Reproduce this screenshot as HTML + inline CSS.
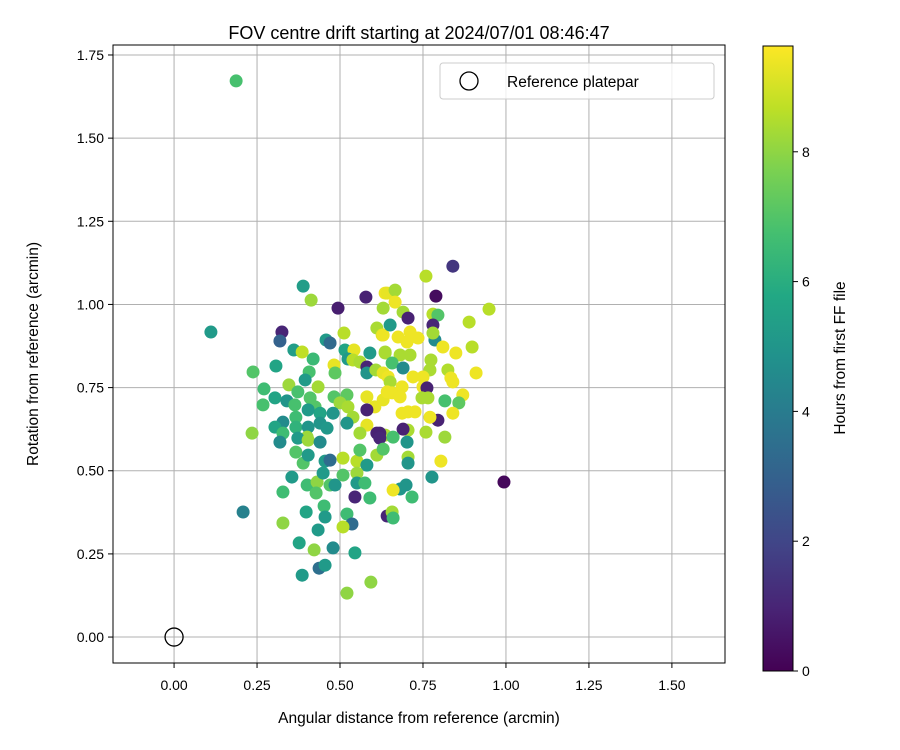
<!DOCTYPE html>
<html><head><meta charset="utf-8"><style>
body{margin:0;background:#fff;}
svg{display:block;font-family:"Liberation Sans","DejaVu Sans",sans-serif;}
</style></head><body>
<svg id="chart" width="900" height="750" viewBox="0 0 900 750">
<defs>
<linearGradient id="vir" x1="0" y1="1" x2="0" y2="0">
<stop offset="0" stop-color="#440154"/><stop offset="0.1" stop-color="#482475"/><stop offset="0.2" stop-color="#414487"/><stop offset="0.3" stop-color="#355f8d"/><stop offset="0.4" stop-color="#2a788e"/><stop offset="0.5" stop-color="#21918c"/><stop offset="0.6" stop-color="#22a884"/><stop offset="0.7" stop-color="#44bf70"/><stop offset="0.8" stop-color="#7ad151"/><stop offset="0.9" stop-color="#bddf26"/><stop offset="1" stop-color="#fde725"/>
</linearGradient>
<clipPath id="plotclip"><rect x="113" y="45" width="612" height="618"/></clipPath>
</defs>
<text x="419" y="39" font-size="18" text-anchor="middle">FOV centre drift starting at 2024/07/01 08:46:47</text>
<g id="grid"></g>
<g id="points" clip-path="url(#plotclip)"></g>
<rect x="113" y="45" width="612" height="618" fill="none" stroke="#000" stroke-width="1"/>
<g id="xticks"></g>
<g id="yticks"></g>
<text x="419" y="723" font-size="15.5" text-anchor="middle">Angular distance from reference (arcmin)</text>
<text transform="translate(38,354) rotate(-90)" font-size="15.5" text-anchor="middle">Rotation from reference (arcmin)</text>
<g>
<rect x="440" y="63" width="274" height="36" rx="3" fill="#fff" fill-opacity="0.8" stroke="#ccc"/>
<circle cx="469" cy="81" r="9" fill="none" stroke="#000" stroke-width="1.3"/>
<text x="507" y="87" font-size="15.5">Reference platepar</text>
</g>
<rect x="763" y="46" width="30" height="625" fill="url(#vir)" stroke="#000" stroke-width="1"/>
<g id="cticks"></g>
<text transform="translate(845,358) rotate(-90)" font-size="15.5" text-anchor="middle">Hours from first FF file</text>
</svg>
<script>
const xVals=[0.187,0.111,0.389,0.413,0.494,0.578,0.636,0.630,0.325,0.319,0.458,0.470,0.512,0.361,0.386,0.515,0.542,0.590,0.611,0.627,0.636,0.419,0.307,0.238,0.482,0.485,0.524,0.539,0.560,0.581,0.581,0.608,0.630,0.407,0.395,0.346,0.373,0.434,0.410,0.482,0.521,0.500,0.524,0.581,0.605,0.630,0.581,0.539,0.581,0.271,0.304,0.268,0.340,0.364,0.425,0.479,0.440,0.404,0.367,0.328,0.304,0.328,0.235,0.367,0.404,0.440,0.461,0.521,0.560,0.611,0.636,0.401,
0.319,0.373,0.404,0.440,0.367,0.389,0.404,0.455,0.470,0.509,0.551,0.581,0.560,0.611,0.355,0.328,0.401,0.431,0.428,0.449,0.470,0.485,0.509,0.551,0.551,0.575,0.545,0.590,0.208,0.328,0.398,0.452,0.455,0.521,0.536,0.509,0.434,0.377,0.422,0.479,0.545,0.437,0.455,0.386,0.593,0.521,
0.759,0.840,0.789,0.642,0.666,0.666,0.690,0.705,0.780,0.795,0.949,0.889,0.780,0.786,0.780,0.735,0.702,0.675,0.711,0.630,0.651,0.810,0.849,0.898,0.711,0.681,0.636,0.657,0.690,0.774,0.771,0.825,0.910,0.834,0.840,0.720,0.750,0.645,0.651,0.750,0.762,0.687,0.657,0.642,0.681,0.747,0.765,0.870,0.816,0.858,0.840,0.795,0.771,0.687,0.705,0.726,0.759,0.705,0.690,0.660,0.816,0.620,
0.702,0.705,0.705,0.804,0.777,0.994,0.699,0.681,0.660,0.717,0.642,0.657,0.660,0.620,0.630];
const yVals=[1.672,0.917,1.055,1.013,0.989,1.022,1.034,0.989,0.917,0.890,0.893,0.884,0.914,0.863,0.857,0.863,0.863,0.854,0.929,0.908,0.854,0.836,0.815,0.797,0.818,0.794,0.836,0.833,0.827,0.812,0.794,0.803,0.794,0.797,0.773,0.758,0.737,0.752,0.719,0.722,0.728,0.704,0.692,0.722,0.692,0.713,0.683,0.661,0.637,0.746,0.719,0.698,0.710,0.698,0.692,0.673,0.673,0.683,0.661,0.646,0.631,0.613,0.613,0.631,0.631,0.643,0.628,0.643,0.613,0.613,0.607,0.601,
0.586,0.598,0.592,0.586,0.556,0.523,0.547,0.529,0.532,0.538,0.529,0.517,0.562,0.547,0.481,0.436,0.457,0.466,0.433,0.493,0.457,0.457,0.487,0.493,0.463,0.463,0.421,0.418,0.376,0.343,0.376,0.394,0.361,0.370,0.340,0.331,0.322,0.283,0.262,0.268,0.253,0.207,0.216,0.186,0.165,0.132,
1.085,1.115,1.025,1.034,1.043,1.007,0.977,0.959,0.971,0.968,0.986,0.947,0.938,0.893,0.914,0.899,0.887,0.902,0.917,0.908,0.938,0.872,0.854,0.872,0.848,0.848,0.857,0.824,0.809,0.833,0.803,0.803,0.794,0.779,0.767,0.782,0.782,0.782,0.767,0.752,0.749,0.752,0.734,0.737,0.722,0.719,0.719,0.728,0.710,0.704,0.673,0.652,0.661,0.673,0.677,0.677,0.616,0.622,0.625,0.601,0.601,0.613,
0.586,0.541,0.523,0.529,0.481,0.466,0.457,0.445,0.442,0.421,0.364,0.376,0.358,0.598,0.565];
const hours=[6.8,5.2,5.3,8.2,0.8,0.9,9.4,8.3,1.0,3.0,5.2,3.3,8.6,5.3,8.7,5.6,9.3,5.2,8.4,9.2,8.3,6.5,5.6,7.0,9.3,7.2,5.2,8.6,8.4,1.0,5.0,8.3,9.3,6.8,5.2,8.2,6.8,8.3,7.0,7.0,7.2,8.2,8.4,9.3,9.3,9.3,0.9,8.3,9.3,6.6,5.6,6.8,5.0,6.8,7.0,5.0,5.6,5.2,6.6,4.6,5.6,6.6,8.0,6.2,5.0,5.0,5.1,5.0,8.3,0.9,8.4,8.2,
4.6,5.2,8.2,4.6,7.0,7.0,5.2,5.2,3.4,8.6,8.6,5.2,7.0,8.3,5.2,6.6,6.6,8.0,7.0,5.2,7.0,5.0,7.0,8.2,5.2,6.6,1.0,6.6,4.2,8.0,5.6,6.6,5.2,6.6,3.4,8.6,5.2,5.6,8.0,4.6,5.6,3.5,5.2,5.2,8.0,8.0,
8.6,1.5,0.3,9.3,8.3,9.4,8.3,0.9,8.6,7.0,8.6,8.6,1.0,4.6,8.3,9.4,9.4,9.4,9.4,9.4,5.2,9.4,9.4,8.6,8.4,8.4,8.4,6.8,4.6,8.4,8.4,8.5,9.4,9.4,9.4,9.4,9.4,9.4,8.4,9.4,0.9,9.4,9.4,9.4,9.4,8.4,8.4,9.4,6.8,7.2,9.4,0.9,9.4,9.4,9.4,9.4,8.4,8.4,0.9,6.8,8.2,0.9,
5.0,8.3,5.0,9.4,5.0,0.2,5.0,5.0,9.4,6.6,1.0,8.3,6.6,1.0,7.0];
const xTickLabels=["0.00","0.25","0.50","0.75","1.00","1.25","1.50"];
const xTickVals=[0,0.25,0.5,0.75,1.0,1.25,1.5];
const yTickLabels=["0.00","0.25","0.50","0.75","1.00","1.25","1.50","1.75"];
const yTickVals=[0,0.25,0.5,0.75,1.0,1.25,1.5,1.75];
const cTickVals=[0,2,4,6,8];

const NS="http://www.w3.org/2000/svg";
const X0=-0.184,X1=1.66,Y0=-0.078,Y1=1.78,PL=113,PR=725,PT=45,PB=663;
function sx(v){return PL+(v-X0)/(X1-X0)*(PR-PL);}
function sy(v){return PB-(v-Y0)/(Y1-Y0)*(PB-PT);}
const CMAX=9.63;
function cy(v){return 671-v/CMAX*625;}
const stops=["#440154","#482475","#414487","#355f8d","#2a788e","#21918c","#22a884","#44bf70","#7ad151","#bddf26","#fde725"];
function hex(h){return [1,3,5].map(i=>parseInt(h.substr(i,2),16));}
function viridis(t){t=Math.max(0,Math.min(1,t));const p=t*10,i=Math.min(9,Math.floor(p)),f=p-i;const a=hex(stops[i]),b=hex(stops[i+1]);return "rgb("+a.map((c,k)=>Math.round(c+(b[k]-c)*f)).join(",")+")";}
function mk(tag,attrs,parent){const e=document.createElementNS(NS,tag);for(const k in attrs)e.setAttribute(k,attrs[k]);parent.appendChild(e);return e;}

const grid=document.getElementById("grid"),xt=document.getElementById("xticks"),yt=document.getElementById("yticks"),ct=document.getElementById("cticks"),pts=document.getElementById("points");
xTickVals.forEach((v,i)=>{const x=sx(v);
 const g=mk("line",{x1:x,x2:x,y1:PT,y2:PB,stroke:"#b0b0b0","stroke-width":1},grid);
 
 
 const t=mk("line",{x1:x,x2:x,y1:PB,y2:PB+5,stroke:"#000"},xt);
 
 
 const l=mk("text",{x:x,y:PB+27,"font-size":14,"text-anchor":"middle"},xt);l.textContent=xTickLabels[i];
 
 
});
yTickVals.forEach((v,i)=>{const y=sy(v);
 const g=mk("line",{x1:PL,x2:PR,y1:y,y2:y,stroke:"#b0b0b0","stroke-width":1},grid);
 
 
 const t=mk("line",{x1:PL-5,x2:PL,y1:y,y2:y,stroke:"#000"},yt);
 
 
 const l=mk("text",{x:PL-9,y:y+5,"font-size":14,"text-anchor":"end"},yt);l.textContent=yTickLabels[i];
 
 
});
cTickVals.forEach(v=>{const y=cy(v);
 const t=mk("line",{x1:793,x2:798,y1:y,y2:y,stroke:"#000"},ct);
 
 
 const l=mk("text",{x:802,y:y+5,"font-size":14},ct);l.textContent=String(v);
 
 
});
xVals.forEach((xv,i)=>{
 const c=mk("circle",{cx:sx(xv),cy:sy(yVals[i]),r:6.5,fill:viridis(hours[i]/CMAX)},pts);
 
 
});
const ref=mk("circle",{cx:sx(0),cy:sy(0),r:9,fill:"none",stroke:"#000","stroke-width":1.3},pts);


</script>
</body></html>
